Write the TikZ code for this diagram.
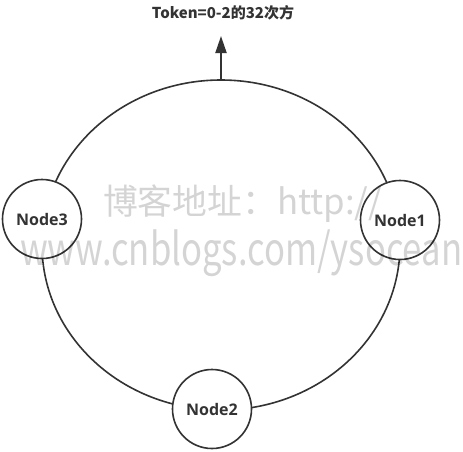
\documentclass[tikz,border=0pt]{standalone}
\usepackage{fontspec}
\usepackage{graphicx}
\usetikzlibrary{shapes.geometric,arrows.meta}
\setmainfont{Open Sans}
\newfontfamily\cjk{Noto Sans CJK SC}
\definecolor{ink}{HTML}{333333}
\begin{document}
\begin{tikzpicture}[x=1pt,y=-1pt,
  ringstyle/.style={ellipse,draw=ink,line width=1.6pt,minimum width=358pt,minimum height=330pt,inner sep=0pt},
  nodecircle/.style={circle,draw=ink,fill=white,line width=1.6pt,minimum size=79pt,inner sep=0pt,
    text=ink,font=\bfseries\fontsize{16}{16}\selectfont},
  arrowline/.style={draw=ink,line width=2pt,-{Triangle[length=17pt,width=11pt]}},
  watermark/.style={anchor=base west,inner sep=0pt,text=black,text opacity=0.17}]
\useasboundingbox (0,0) rectangle (463,451);
\node[ringstyle] (ring) at (221,245) {};
\coordinate (tip) at (221,36);
\draw[arrowline] (ring.north) -- (tip);
\node[text=ink,font=\cjk\bfseries\fontsize{15}{15}\selectfont] (title) at (223,13) {Token=0-2的32次方};
\node[nodecircle] (n3) at (42,219) {Node3};
\node[nodecircle] (n1) at (400,220) {Node1};
\node[nodecircle] (n2) at (212,409) {Node2};
\node[watermark] (wm1) at (103,214) {\resizebox{279pt}{\height}{\cjk\fontsize{35}{35}\selectfont 博客地址：http://}};
\node[watermark] (wm2) at (20,265) {\resizebox{442pt}{\height}{\cjk\fontsize{45}{45}\selectfont www.cnblogs.com/ysocean}};
\end{tikzpicture}
\end{document}
